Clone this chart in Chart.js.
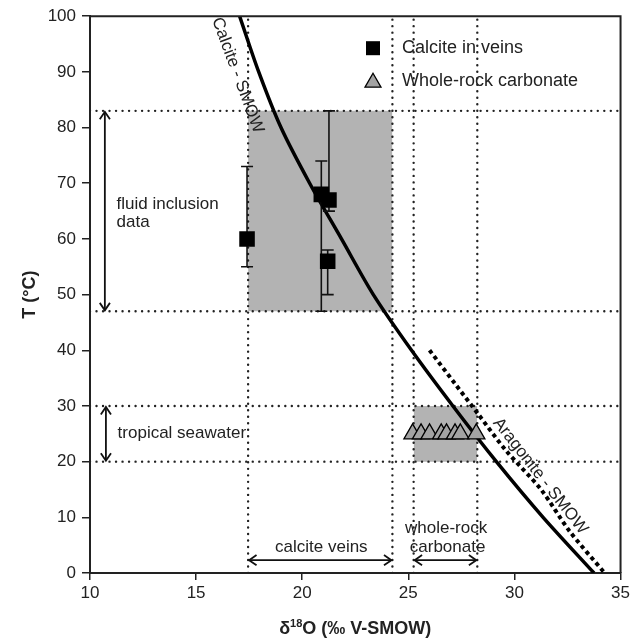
<!DOCTYPE html>
<html>
<head>
<meta charset="utf-8">
<script src="https://cdn.jsdelivr.net/npm/chart.js@4.4.1/dist/chart.umd.min.js"></script>
<style>
  html, body { margin: 0; padding: 0; background: #fff; }
  #chart { display: block; }
</style>
</head>
<body>
<canvas id="chart" width="633" height="642"></canvas>
<script>
// -------------------------------------------------------
// DATA
const xTickValues = [10, 15, 20, 25, 30, 35];
const yTickValues = [0, 10, 20, 30, 40, 50, 60, 70, 80, 90, 100];

// calcite in veins: d18O, temperature and fluid-inclusion range
const veinD18O = [17.4, 20.9, 21.26, 21.2];
const veinT = [60, 68, 67, 56];
const veinTLow = [55, 47, 65, 50];
const veinTHigh = [73, 74, 83, 58];

// whole-rock carbonate
const rockD18O = [25.2, 25.6, 26.0, 26.55, 26.8, 27.2, 27.45, 28.2];
const rockT = [25, 25, 25, 25, 25, 25, 25, 25];

// calcite - SMOW equilibrium curve
const calciteD18O = [17.05, 17.95, 19.0, 20.35, 21.85, 23.35, 25.15, 27.1, 29.15, 31.35, 33.75];
const calciteT = [100, 90, 80, 70, 60, 50, 40, 30, 20, 10, 0];

// aragonite - SMOW equilibrium curve
const aragoniteD18O = [26.0, 27.2, 28.3, 29.6, 31.25, 32.6, 34.25];
const aragoniteT = [40, 34, 28.5, 22, 15, 7.5, 0];

// shaded ranges (d18O span, T span)
const veinRangeD18O = [17.45, 24.25];
const veinRangeT = [47, 83];
const rockRangeD18O = [25.25, 28.25];
const rockRangeT = [20, 30];

// dotted guide lines
const guideD18O = [17.45, 24.25, 25.25, 28.25];
const guideT = [83, 47, 30, 20];

// -------------------------------------------------------
// HELPERS
const FONT = "'Liberation Sans', Arial, sans-serif";
const pts = (xs, ys) => xs.map((x, i) => ({ x, y: ys[i] }));

const datasets = [];

// markers
datasets.push({
  label: "Calcite in veins",
  data: pts(veinD18O, veinT),
  pointStyle: "rect",
  pointRadius: 11,
  backgroundColor: "#000",
  borderColor: "#000",
  borderWidth: 0,
  order: 0,
});
datasets.push({
  label: "Whole-rock carbonate",
  data: pts(rockD18O, rockT),
  pointStyle: "triangle",
  pointRadius: 10,
  backgroundColor: "#a3a3a3",
  borderColor: "#000",
  borderWidth: 1.3,
  order: 0,
});

// error bars (line with cap markers)
veinD18O.forEach((x, i) => {
  datasets.push({
    data: [{ x, y: veinTLow[i] }, { x, y: veinTHigh[i] }],
    showLine: true,
    borderColor: "#111",
    borderWidth: 1.6,
    pointStyle: "line",
    pointRadius: 6,
    pointBorderColor: "#111",
    pointBorderWidth: 1.6,
    order: 1,
  });
});

// equilibrium curves
datasets.push({
  data: pts(calciteD18O, calciteT),
  showLine: true,
  borderColor: "#000",
  borderWidth: 3.5,
  pointRadius: 0,
  tension: 0.3,
  order: 2,
});
datasets.push({
  data: pts(aragoniteD18O, aragoniteT),
  showLine: true,
  borderColor: "#000",
  borderWidth: 4,
  borderDash: [4, 3.5],
  pointRadius: 0,
  tension: 0.3,
  order: 2,
});

// dotted guides
guideD18O.forEach((x) => {
  datasets.push({
    data: [{ x, y: yTickValues[0] }, { x, y: yTickValues[yTickValues.length - 1] }],
    showLine: true,
    borderColor: "#222",
    borderWidth: 2.4,
    borderDash: [0.01, 6.5],
    borderCapStyle: "round",
    pointRadius: 0,
    order: 3,
  });
});
guideT.forEach((y) => {
  datasets.push({
    data: [{ x: xTickValues[0], y }, { x: xTickValues[xTickValues.length - 1], y }],
    showLine: true,
    borderColor: "#222",
    borderWidth: 2.4,
    borderDash: [0.01, 6.5],
    borderCapStyle: "round",
    pointRadius: 0,
    order: 3,
  });
});

// shaded boxes
[[veinRangeD18O, veinRangeT], [rockRangeD18O, rockRangeT]].forEach(([xr, yr]) => {
  datasets.push({
    data: [{ x: xr[0], y: yr[1] }, { x: xr[1], y: yr[1] }],
    showLine: true,
    borderWidth: 0,
    borderColor: "rgba(0,0,0,0)",
    backgroundColor: "#b3b3b3",
    fill: { target: { value: yr[0] } },
    pointRadius: 0,
    order: 4,
  });
});

// -------------------------------------------------------
// ANNOTATIONS (arrows, labels, legend, titles)
function arrowHead(ctx, x, y, ang) {
  const L = 9, W = 0.6;
  ctx.beginPath();
  ctx.moveTo(x + L * Math.cos(ang + W), y + L * Math.sin(ang + W));
  ctx.lineTo(x, y);
  ctx.lineTo(x + L * Math.cos(ang - W), y + L * Math.sin(ang - W));
  ctx.stroke();
}
function dblArrow(ctx, x1, y1, x2, y2) {
  ctx.beginPath();
  ctx.moveTo(x1, y1);
  ctx.lineTo(x2, y2);
  ctx.stroke();
  const a = Math.atan2(y2 - y1, x2 - x1);
  arrowHead(ctx, x1, y1, a);
  arrowHead(ctx, x2, y2, a + Math.PI);
}

const annotPlugin = {
  id: "annot",
  afterDatasetsDraw(chart) {
    const { ctx, chartArea } = chart;
    const sx = chart.scales.x, sy = chart.scales.y;
    const X = (v) => sx.getPixelForValue(v);
    const Y = (v) => sy.getPixelForValue(v);
    ctx.save();
    ctx.strokeStyle = "#111";
    ctx.fillStyle = "#222";
    ctx.lineWidth = 1.8;

    // vertical double arrows on the left
    dblArrow(ctx, X(10.7), Y(guideT[0]) + 1, X(10.7), Y(guideT[1]) - 1);
    dblArrow(ctx, X(10.75), Y(guideT[2]) + 1, X(10.75), Y(guideT[3]) - 1);
    // horizontal double arrows at the bottom
    dblArrow(ctx, X(veinRangeD18O[0]) + 1, Y(2.3), X(veinRangeD18O[1]) - 1, Y(2.3));
    dblArrow(ctx, X(rockRangeD18O[0]) + 1, Y(2.3), X(rockRangeD18O[1]) - 1, Y(2.3));

    ctx.font = "17px " + FONT;
    ctx.textBaseline = "middle";
    ctx.textAlign = "left";
    ctx.fillText("fluid inclusion", X(11.25), Y(66.3));
    ctx.fillText("data", X(11.25), Y(62.9));
    ctx.fillText("tropical seawater", X(11.3), Y(25.1));
    ctx.textAlign = "center";
    ctx.fillText("calcite veins", X(20.9), Y(4.7));
    ctx.fillText("whole-rock", X(26.78), Y(8.1));
    ctx.fillText("carbonate", X(26.85), Y(4.7));

    // rotated curve labels
    const rot = (txt, cx, cy, ang) => {
      ctx.save();
      ctx.translate(cx, cy);
      ctx.rotate(ang);
      ctx.textAlign = "center";
      ctx.textBaseline = "middle";
      ctx.fillText(txt, 0, 0);
      ctx.restore();
    };
    const aC = Math.atan2(Y(calciteT[2]) - Y(calciteT[0]), X(calciteD18O[2]) - X(calciteD18O[0]));
    rot("Calcite - SMOW", X(16.95), Y(89.4), aC);
    const n = aragoniteD18O.length - 1;
    const aA = Math.atan2(Y(aragoniteT[n]) - Y(aragoniteT[0]), X(aragoniteD18O[n]) - X(aragoniteD18O[0]));
    rot("Aragonite - SMOW", X(31.22), Y(17.4), aA);

    // top / right frame
    ctx.strokeStyle = "#222";
    ctx.lineWidth = 2;
    ctx.beginPath();
    ctx.moveTo(chartArea.left, chartArea.top);
    ctx.lineTo(chartArea.right, chartArea.top);
    ctx.lineTo(chartArea.right, chartArea.bottom);
    ctx.stroke();
    ctx.restore();
  },
  afterDraw(chart) {
    const { ctx, chartArea } = chart;
    ctx.save();
    // legend
    const lx = chartArea.left + 283;
    const ly1 = chartArea.top + 32, ly2 = chartArea.top + 65;
    ctx.fillStyle = "#000";
    ctx.fillRect(lx - 7, ly1 - 7, 14, 14);
    ctx.beginPath();
    ctx.moveTo(lx, ly2 - 8);
    ctx.lineTo(lx + 8, ly2 + 6);
    ctx.lineTo(lx - 8, ly2 + 6);
    ctx.closePath();
    ctx.fillStyle = "#a3a3a3";
    ctx.fill();
    ctx.strokeStyle = "#000";
    ctx.lineWidth = 1.3;
    ctx.stroke();
    ctx.fillStyle = "#222";
    ctx.font = "18px " + FONT;
    ctx.textAlign = "left";
    ctx.textBaseline = "middle";
    ctx.fillText("Calcite in veins", lx + 29, ly1);
    ctx.fillText("Whole-rock carbonate", lx + 29, ly2);

    // axis titles
    ctx.font = "bold 18px " + FONT;
    ctx.textBaseline = "alphabetic";
    const parts = ["\u03B4", "18", "O (\u2030 V-SMOW)"];
    const w0 = ctx.measureText(parts[0]).width;
    const w2 = ctx.measureText(parts[2]).width;
    ctx.font = "bold 11px " + FONT;
    const w1 = ctx.measureText(parts[1]).width;
    const cx = (chartArea.left + chartArea.right) / 2;
    let x = cx - (w0 + w1 + w2) / 2;
    const by = 634;
    ctx.font = "bold 18px " + FONT;
    ctx.fillText(parts[0], x, by); x += w0;
    ctx.font = "bold 11px " + FONT;
    ctx.fillText(parts[1], x, by - 7); x += w1;
    ctx.font = "bold 18px " + FONT;
    ctx.fillText(parts[2], x, by);

    ctx.translate(30, (chartArea.top + chartArea.bottom) / 2);
    ctx.rotate(-Math.PI / 2);
    ctx.textAlign = "center";
    ctx.textBaseline = "middle";
    ctx.fillText("T (\u00B0C)", 0, 0);
    ctx.restore();
  },
};

// -------------------------------------------------------
// CHART
new Chart(document.getElementById("chart"), {
  type: "scatter",
  data: { datasets },
  options: {
    responsive: false,
    devicePixelRatio: 1,
    animation: false,
    layout: { padding: { top: 15, right: 10, left: 0, bottom: 0 } },
    plugins: { legend: { display: false }, tooltip: { enabled: false } },
    scales: {
      x: {
        type: "linear",
        min: xTickValues[0],
        max: xTickValues[xTickValues.length - 1],
        afterBuildTicks: (s) => { s.ticks = xTickValues.map((v) => ({ value: v })); },
        afterFit: (s) => { s.height = 69; },
        ticks: { font: { family: FONT, size: 17 }, color: "#222", padding: 3, maxRotation: 0 },
        grid: { drawOnChartArea: false, tickLength: 7, color: "#222", lineWidth: 1.5 },
        border: { color: "#222", width: 2 },
      },
      y: {
        type: "linear",
        min: yTickValues[0],
        max: yTickValues[yTickValues.length - 1],
        afterBuildTicks: (s) => { s.ticks = yTickValues.map((v) => ({ value: v })); },
        afterFit: (s) => { s.width = 90; },
        ticks: { font: { family: FONT, size: 17 }, color: "#222", padding: 6 },
        grid: { drawOnChartArea: false, tickLength: 8, color: "#222", lineWidth: 1.5 },
        border: { color: "#222", width: 2 },
      },
    },
  },
  plugins: [annotPlugin],
});
</script>
</body>
</html>
